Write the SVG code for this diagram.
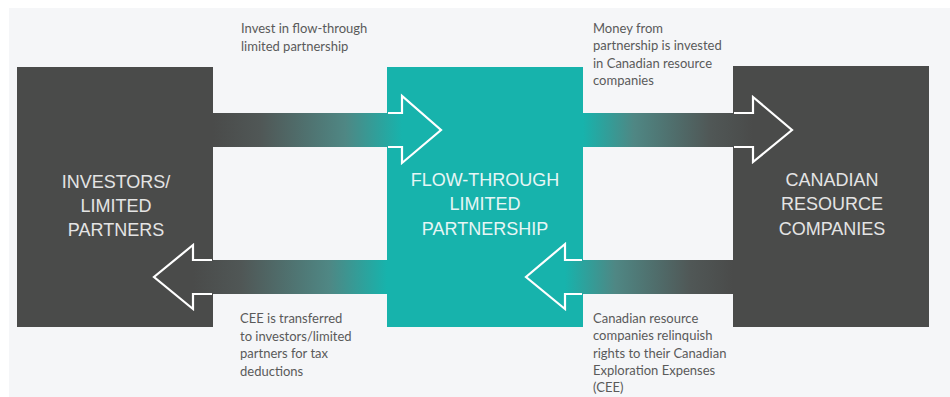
<svg xmlns="http://www.w3.org/2000/svg" width="950" height="397" viewBox="0 0 950 397">
<defs>
<style>
.dark{fill:#4a4b4a}
.teal{fill:#17b3ac}
.lbl{font-family:"Liberation Sans",Arial,sans-serif;font-size:18px;text-anchor:middle}
.lblD{fill:#e4e4e4}
.lblT{fill:#e6f6f5}
.note{font-family:"Lato","Liberation Sans",sans-serif;font-size:13px;fill:#5a5a5a}
.head{fill:none;stroke:#ffffff;stroke-width:2.2;stroke-linejoin:miter}
</style>
<linearGradient id="gDT" x1="0" x2="1" y1="0" y2="0">
<stop offset="0" stop-color="#4a4b4a"/>
<stop offset="0.25" stop-color="#505756"/>
<stop offset="0.7" stop-color="#4f8784"/>
<stop offset="1" stop-color="#17b3ac"/>
</linearGradient>
<linearGradient id="gTD" x1="0" x2="1" y1="0" y2="0">
<stop offset="0" stop-color="#17b3ac"/>
<stop offset="0.3" stop-color="#4f8784"/>
<stop offset="0.75" stop-color="#505756"/>
<stop offset="1" stop-color="#4a4b4a"/>
</linearGradient>
</defs>
<rect x="0" y="0" width="950" height="397" fill="#ffffff"/>
<rect x="9" y="8" width="941" height="389" fill="#f5f6f8"/>

<g id="investors">
<rect class="dark" x="17" y="67" width="196" height="260"/>
<text class="lbl lblD" x="116" y="188">INVESTORS/</text>
<text class="lbl lblD" x="116" y="212">LIMITED</text>
<text class="lbl lblD" x="116" y="236">PARTNERS</text>
</g>
<g id="partnership">
<rect class="teal" x="387" y="67" width="196" height="260"/>
<text class="lbl lblT" x="485" y="186">FLOW-THROUGH</text>
<text class="lbl lblT" x="485" y="210">LIMITED</text>
<text class="lbl lblT" x="485" y="235">PARTNERSHIP</text>
</g>
<g id="companies">
<rect class="dark" x="733" y="66" width="196" height="261"/>
<text class="lbl lblD" x="832" y="186">CANADIAN</text>
<text class="lbl lblD" x="832" y="210">RESOURCE</text>
<text class="lbl lblD" x="832" y="235">COMPANIES</text>
</g>

<g id="connectors">
<rect x="213" y="113" width="189" height="34" fill="url(#gDT)"/>
<polygon points="402,113 402,96 441,130 402,163 402,147" fill="#17b3ac"/>
<polyline class="head" points="388,113 402,113 402,96 441,130 402,163 402,147 388,147"/>
<rect x="583" y="113" width="170" height="34" fill="url(#gTD)"/>
<polygon points="753,113 753,97 792,130 753,162 753,147" fill="#4a4b4a"/>
<polyline class="head" points="734,113 753,113 753,97 792,130 753,162 753,147 734,147"/>
<rect x="565" y="260" width="168" height="34" fill="url(#gTD)"/>
<polygon points="565,260 565,244 526,277 565,309 565,294" fill="#17b3ac"/>
<polyline class="head" points="582,260 565,260 565,244 526,277 565,309 565,294 582,294"/>
<rect x="193" y="260" width="194" height="34" fill="url(#gDT)"/>
<polygon points="193,260 193,245 154,277 193,309 193,294" fill="#4a4b4a"/>
<polyline class="head" points="212,260 193,260 193,245 154,277 193,309 193,294 212,294"/>
</g>

<g id="notes">
<text class="note" x="241" y="33">Invest in flow-through</text>
<text class="note" x="241" y="51">limited partnership</text>
<text class="note" x="593" y="33">Money from</text>
<text class="note" x="593" y="50">partnership is invested</text>
<text class="note" x="593" y="68">in Canadian resource</text>
<text class="note" x="593" y="85">companies</text>
<text class="note" x="240" y="323">CEE is transferred</text>
<text class="note" x="240" y="341">to investors/limited</text>
<text class="note" x="240" y="358">partners for tax</text>
<text class="note" x="240" y="376">deductions</text>
<text class="note" x="593" y="323">Canadian resource</text>
<text class="note" x="593" y="340">companies relinquish</text>
<text class="note" x="593" y="358">rights to their Canadian</text>
<text class="note" x="593" y="375">Exploration Expenses</text>
<text class="note" x="593" y="392">(CEE)</text>
</g>
</svg>
